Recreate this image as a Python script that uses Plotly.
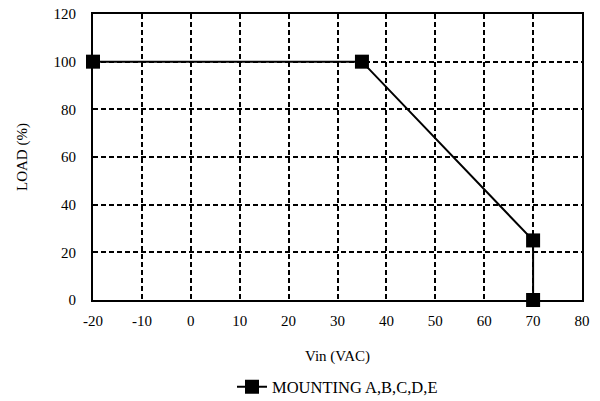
import plotly.graph_objects as go

vin = [-20, 35, 70, 70]
load = [100, 100, 25, 0]
series_name = "MOUNTING A,B,C,D,E"
x_ticks = [-20, -10, 0, 10, 20, 30, 40, 50, 60, 70, 80]
x_tick_labels = ["-20", "-10", "0", "10", "20", "30", "40", "50", "60", "70", "80"]
y_ticks = [0, 20, 40, 60, 80, 100, 120]
y_tick_labels = ["0", "20", "40", "60", "80", "100", "120"]

fam = "Liberation Serif, Times New Roman, serif"
font = dict(family=fam, size=15, color="black")

fig = go.Figure()
fig.add_trace(go.Scatter(
    x=vin, y=load, mode="lines+markers", name=series_name,
    line=dict(color="black", width=2),
    marker=dict(symbol="square", size=14, color="black"),
    cliponaxis=False,
))

# page body has an 8px margin, so the figure is sized to fit the 600x401 window
fig.update_layout(
    width=592, height=393,
    margin=dict(l=85, r=18, t=6, b=101, autoexpand=False),
    paper_bgcolor="white", plot_bgcolor="white",
    font=font,
    showlegend=True,
    legend=dict(orientation="h", x=0.5, xanchor="center", y=-0.304, yanchor="middle",
                font=dict(family=fam, size=16.5, color="black"),
                itemwidth=30),
    xaxis=dict(
        range=[-20, 80], tickvals=x_ticks, ticktext=x_tick_labels, ticks="",
        ticklabelstandoff=6, ticklabeloverflow="allow",
        showgrid=True, gridcolor="black", gridwidth=2, griddash="5px,3px",
        showline=True, linecolor="black", linewidth=2, mirror=True,
        zeroline=False, automargin=False,
        title=dict(text="Vin (VAC)", standoff=22, font=font),
    ),
    yaxis=dict(
        range=[0, 120], tickvals=y_ticks, ticktext=y_tick_labels, ticks="",
        ticklabelstandoff=12, ticklabeloverflow="allow",
        showgrid=True, gridcolor="black", gridwidth=2, griddash="5px,3px",
        showline=True, linecolor="black", linewidth=2, mirror=True,
        zeroline=False, automargin=False,
        title=dict(text="LOAD (%)", standoff=22, font=font),
    ),
)

fig.write_html("out.html")
